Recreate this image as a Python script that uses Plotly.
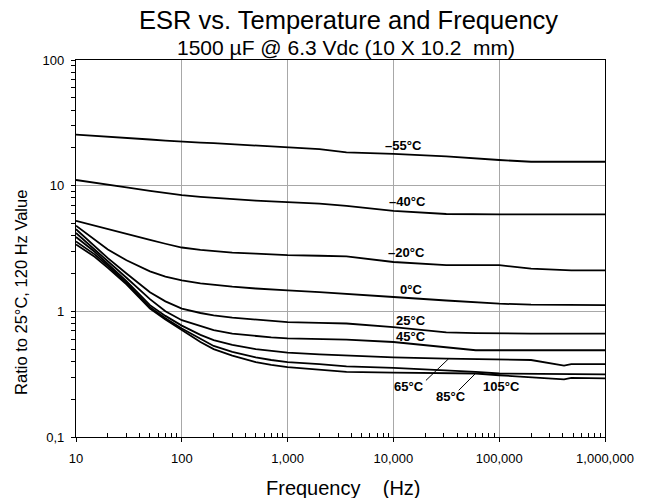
import math
import plotly.graph_objects as go

# Frequency grid (Hz) shared by all temperature curves
freq = [10, 15, 20, 30, 50, 70, 100, 150, 200, 300, 500, 700, 1000, 2000, 3600, 10000,
        31600, 60000, 100000, 200000, 410000, 480000, 1000000]

# ESR ratio (relative to 25 °C, 120 Hz) per temperature
esr_m55 = [25.5, 25.0, 24.6, 24.0, 23.3, 22.8, 22.3, 22.0, 21.8, 21.4, 21.0, 20.7, 20.4, 19.5,
           18.4, 17.9, 17.1, 16.4, 16.0, 15.5, 15.5, 15.5, 15.5]
esr_m40 = [11.1, 10.6, 10.2, 9.7, 9.1, 8.7, 8.4, 8.15, 8.0, 7.8, 7.6, 7.5, 7.43, 7.2,
           6.9, 6.3, 5.95, 5.9, 5.9, 5.9, 5.9, 5.9, 5.9]
esr_m20 = [5.25, 4.8, 4.5, 4.1, 3.7, 3.45, 3.22, 3.08, 3.0, 2.93, 2.88, 2.84, 2.8, 2.77,
           2.74, 2.47, 2.33, 2.33, 2.33, 2.19, 2.12, 2.12, 2.12]
esr_0 = [4.8, 3.7, 3.1, 2.55, 2.08, 1.89, 1.76, 1.67, 1.62, 1.57, 1.52, 1.49, 1.47, 1.42,
         1.38, 1.30, 1.22, 1.18, 1.15, 1.13, 1.12, 1.12, 1.12]
esr_25 = [4.5, 3.3, 2.65, 2.0, 1.42, 1.2, 1.05, 0.97, 0.93, 0.89, 0.86, 0.84, 0.82, 0.81,
          0.80, 0.75, 0.68, 0.67, 0.665, 0.665, 0.665, 0.665, 0.665]
esr_45 = [4.2, 3.12, 2.5, 1.85, 1.25, 1.0, 0.85, 0.76, 0.71, 0.665, 0.635, 0.62, 0.61, 0.60,
          0.595, 0.57, 0.52, 0.49, 0.49, 0.49, 0.49, 0.49, 0.49]
esr_65 = [3.9, 2.98, 2.38, 1.74, 1.12, 0.92, 0.77, 0.65, 0.59, 0.54, 0.50, 0.485, 0.47, 0.455,
          0.446, 0.43, 0.42, 0.415, 0.41, 0.41, 0.37, 0.38, 0.38]
esr_85 = [3.6, 2.84, 2.3, 1.68, 1.08, 0.88, 0.73, 0.60, 0.53, 0.475, 0.43, 0.41, 0.395, 0.38,
          0.365, 0.355, 0.34, 0.33, 0.32, 0.318, 0.315, 0.315, 0.315]
esr_105 = [3.4, 2.72, 2.22, 1.64, 1.05, 0.86, 0.71, 0.57, 0.50, 0.445, 0.395, 0.375, 0.36,
           0.345, 0.33, 0.325, 0.322, 0.32, 0.31, 0.30, 0.287, 0.295, 0.293]

series = [esr_m55, esr_m40, esr_m20, esr_0, esr_25, esr_45, esr_65, esr_85, esr_105]

# Curve labels: text, frequency (Hz), ratio
labels = ["\u201355\u00b0C", "\u201340\u00b0C", "\u201320\u00b0C", "0\u00b0C", "25\u00b0C",
          "45\u00b0C", "65\u00b0C", "85\u00b0C", "105\u00b0C"]
label_f = [12400, 13500, 13200, 14700, 14700, 14700, 14100, 34800, 104000]
label_v = [21.0, 7.5, 2.95, 1.5, 0.85, 0.63, 0.25, 0.21, 0.25]

# Leader lines for the 65 °C and 85 °C labels: (label end) -> (curve end)
leader_f0 = [20300, 41400]
leader_v0 = [0.282, 0.235]
leader_f1 = [33300, 59700]
leader_v1 = [0.42, 0.32]

FONT = "Liberation Sans, Arial, sans-serif"

fig = go.Figure()
for vals in series:
    fig.add_trace(go.Scatter(x=freq, y=vals, mode="lines",
                             line=dict(color="black", width=1.8),
                             showlegend=False, hoverinfo="skip"))

for fa, va, fb, vb in zip(leader_f0, leader_v0, leader_f1, leader_v1):
    fig.add_trace(go.Scatter(x=[fa, fb], y=[va, vb], mode="lines",
                             line=dict(color="black", width=1),
                             showlegend=False, hoverinfo="skip"))

annotations = []
# log axes take annotation positions in log10 units
for t, f, v in zip(labels, label_f, label_v):
    annotations.append(dict(x=math.log10(f), y=math.log10(v), xref="x", yref="y",
                            text="<b>%s</b>" % t, showarrow=False,
                            font=dict(size=13, color="black", family=FONT)))

annotations += [
    dict(text="ESR vs. Temperature and Frequency", xref="paper", yref="paper",
         x=0.515, y=1.106, xanchor="center", yanchor="middle", showarrow=False,
         font=dict(size=25.5, family=FONT)),
    dict(text="1500 \u00b5F @ 6.3 Vdc (10 X 10.2  mm)", xref="paper", yref="paper",
         x=0.51, y=1.032, xanchor="center", yanchor="middle", showarrow=False,
         font=dict(size=21, family=FONT)),
    dict(text="Frequency    (Hz)", xref="paper", yref="paper",
         x=0.504, y=-0.135, xanchor="center", yanchor="middle", showarrow=False,
         font=dict(size=20, family=FONT)),
    dict(text="Ratio to 25\u00b0C, 120 Hz Value", xref="paper", yref="paper",
         x=-0.1026, y=0.384, xanchor="center", yanchor="middle", showarrow=False,
         textangle=-90, font=dict(size=16.5, family=FONT)),
]

minor_x = [m * 10 ** d for d in range(1, 6) for m in range(2, 10)]
minor_y = [m * 10 ** d for d in range(-1, 2) for m in range(2, 10)]

fig.update_layout(
    width=646, height=498,
    margin=dict(l=76, r=34, t=60, b=61),
    paper_bgcolor="white", plot_bgcolor="white",
    font=dict(family=FONT, color="black"),
    annotations=annotations,
    xaxis=dict(
        type="log", range=[1, 6],
        tickvals=[10, 100, 1000, 10000, 100000, 1000000],
        ticktext=["10", "100", "1,000", "10,000", "100,000", "1,000,000"],
        tickfont=dict(size=13),
        showgrid=True, gridcolor="#a8a8a8", gridwidth=1,
        showline=True, linecolor="black", linewidth=1.2, mirror=True,
        ticks="outside", ticklen=4, tickcolor="black",
        ticklabelstandoff=5,
        minor=dict(tickvals=minor_x, ticks="inside", ticklen=4,
                   tickcolor="black", showgrid=False),
        zeroline=False,
    ),
    yaxis=dict(
        type="log", range=[-1, 2],
        tickvals=[0.1, 1, 10, 100],
        ticktext=["0,1", "1", "10", "100"],
        tickfont=dict(size=13),
        showgrid=True, gridcolor="#a8a8a8", gridwidth=1,
        showline=True, linecolor="black", linewidth=1.2, mirror=True,
        ticks="outside", ticklen=4, tickcolor="black",
        ticklabelstandoff=4,
        minor=dict(tickvals=minor_y, ticks="outside", ticklen=4,
                   tickcolor="black", showgrid=False),
        zeroline=False,
    ),
)

fig.write_html("out.html")
